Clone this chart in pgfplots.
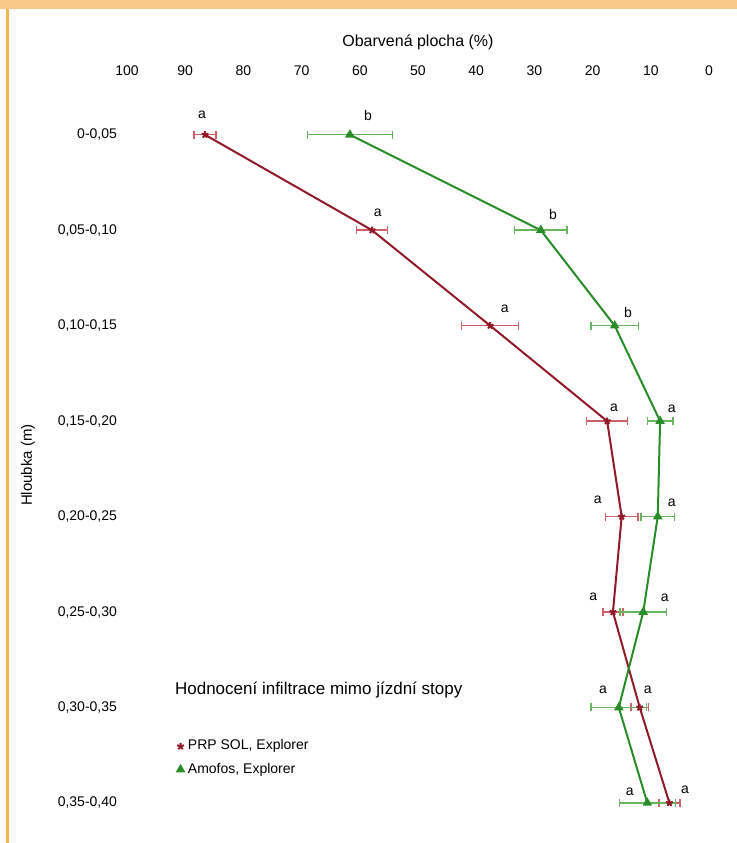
\documentclass[border=0pt]{standalone}
\usepackage{fontspec}
\setmainfont{Liberation Sans}
\usepackage{pgfplots}
\pgfplotsset{compat=1.18}
\definecolor{redline}{RGB}{145,25,40}
\definecolor{rederr}{RGB}{205,95,105}
\definecolor{greenline}{RGB}{40,140,40}
\definecolor{greenerr}{RGB}{105,180,95}
\definecolor{orangeband}{RGB}{247,200,135}
\definecolor{orangeline}{RGB}{245,180,80}
\begin{document}
\begin{tikzpicture}
\begin{scope}[x=0.5pt,y=-0.5pt]
\path (0,0) rectangle (737,843);
\fill[orangeband] (0,0) rectangle (737,9);
\fill[orangeline] (6,9) rectangle (8.5,843);
\end{scope}
\begin{axis}[
  at={(63.5pt,-43.5pt)}, anchor=north west,
  scale only axis, width=291pt, height=378pt,
  xmin=0, xmax=100, x dir=reverse,
  ymin=0.5, ymax=8.42, y dir=reverse,
  clip=false,
  axis line style={draw=none},
  tick style={draw=none},
  xticklabel pos=upper,
  xtick={0,10,...,100},
  ytick={1,2,3,4,5,6,7,8},
  yticklabels={{0-0,05},{0,05-0,10},{0,10-0,15},{0,15-0,20},{0,20-0,25},{0,25-0,30},{0,30-0,35},{0,35-0,40}},
  /pgf/number format/assume math mode=true,
  tick label style={font=\fontsize{7}{8}\selectfont},
  xticklabel style={yshift=2pt},
  yticklabel style={xshift=-1.5pt},
  legend style={draw=none, fill=none, at={(axis description cs:0.082,0.145)}, anchor=north west,
    font=\fontsize{7}{8}\selectfont, row sep=1pt, inner sep=1pt},
  legend cell align=left,
  legend image code/.code={\draw[#1] plot[only marks] coordinates {(0.1cm,0cm)};},
]
\addplot[color=redline, line width=1pt, mark=star, mark size=1.8pt,
  error bars/.cd, x dir=both, x explicit, error mark=|,
  error bar style={color=rederr, line width=0.7pt},
  error mark options={color=rederr, mark size=2pt, line width=0.7pt}]
  coordinates {
  (86.6,1) +- (1.9,0)
  (57.9,2) +- (2.7,0)
  (37.6,3) +- (4.9,0)
  (17.5,4) +- (3.5,0)
  (15.0,5) +- (2.8,0)
  (16.5,6) +- (1.7,0)
  (11.9,7) +- (1.5,0)
  (6.8,8) +- (1.8,0)
  };
\addlegendentry{PRP SOL, Explorer}
\addplot[color=greenline, line width=1pt, mark=triangle*, mark size=1.8pt,
  error bars/.cd, x dir=both, x explicit, error mark=|,
  error bar style={color=greenerr, line width=0.7pt},
  error mark options={color=greenerr, mark size=2pt, line width=0.7pt}]
  coordinates {
  (61.7,1) +- (7.3,0)
  (28.9,2) +- (4.5,0)
  (16.2,3) +- (4.1,0)
  (8.4,4) +- (2.2,0)
  (8.8,5) +- (2.9,0)
  (11.3,6) +- (4.0,0)
  (15.5,7) +- (4.8,0)
  (10.6,8) +- (4.8,0)
  };
\addlegendentry{Amofos, Explorer}
% significance letters
\begin{scope}[every node/.style={font=\fontsize{7}{8}\selectfont, inner sep=0pt}]
\node at (axis cs:87.1,0.79) {a};
\node at (axis cs:56.9,1.82) {a};
\node at (axis cs:35.1,2.82) {a};
\node at (axis cs:16.3,3.86) {a};
\node at (axis cs:19.1,4.82) {a};
\node at (axis cs:19.9,5.84) {a};
\node at (axis cs:10.5,6.81) {a};
\node at (axis cs:4.1,7.86) {a};
\node at (axis cs:58.6,0.80) {b};
\node at (axis cs:26.8,1.84) {b};
\node at (axis cs:13.9,2.86) {b};
\node at (axis cs:6.4,3.87) {a};
\node at (axis cs:6.4,4.86) {a};
\node at (axis cs:7.6,5.85) {a};
\node at (axis cs:18.2,6.81) {a};
\node at (axis cs:13.6,7.88) {a};
\end{scope}
\node[font=\fontsize{8}{9}\selectfont] at ([yshift=22.5pt]axis description cs:0.5,1) {Obarvená plocha (\%)};
\node[font=\fontsize{7.5}{9}\selectfont, rotate=90] at ([xshift=-49.5pt]axis description cs:0,0.5) {Hloubka (m)};
\node[font=\fontsize{8.5}{10}\selectfont, anchor=west, inner sep=0pt] at (axis description cs:0.082,0.202) {Hodnocení infiltrace mimo jízdní stopy};
\end{axis}
\end{tikzpicture}
\end{document}
